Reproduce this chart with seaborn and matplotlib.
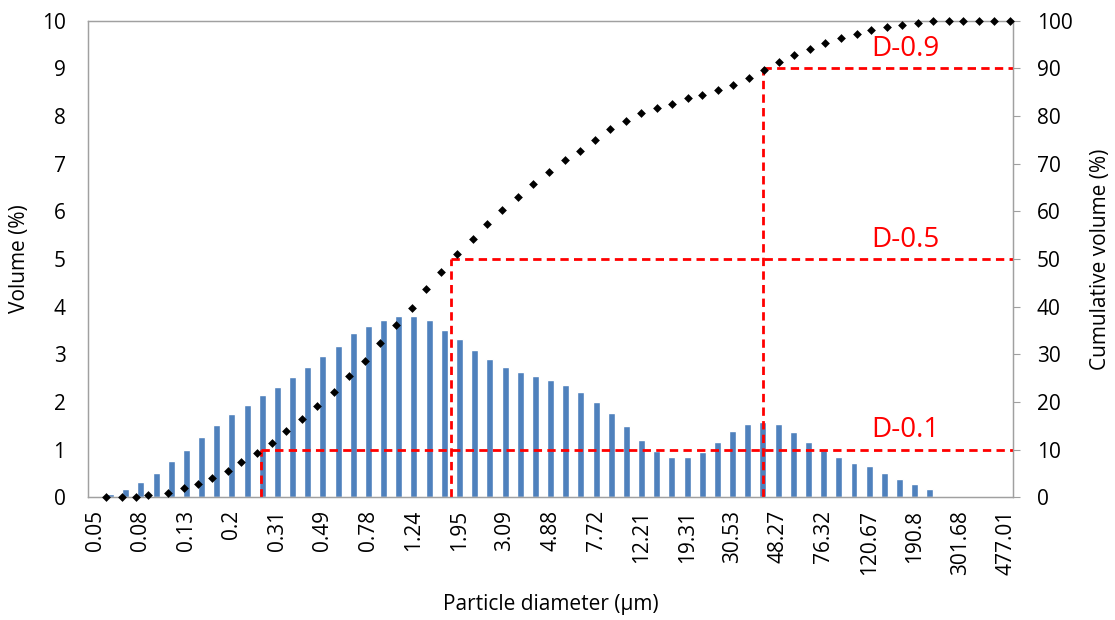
import numpy as np
import matplotlib
matplotlib.use('Agg')
import matplotlib.pyplot as plt
import seaborn as sns

# tick labels (every 3rd size class is labelled)
size_labels = ['0.05', '0.08', '0.13', '0.2', '0.31', '0.49', '0.78', '1.24', '1.95',
               '3.09', '4.88', '7.72', '12.21', '19.31', '30.53', '48.27', '76.32',
               '120.67', '190.8', '301.68', '477.01']

# volume (%) per size class, 61 classes
volume = [0, 0.06, 0.17, 0.32, 0.51, 0.76, 1.0, 1.26, 1.51, 1.74,
          1.93, 2.15, 2.32, 2.52, 2.73, 2.96, 3.18, 3.44, 3.6, 3.71,
          3.8, 3.8, 3.71, 3.52, 3.32, 3.1, 2.9, 2.74, 2.63, 2.54,
          2.47, 2.35, 2.21, 2.01, 1.76, 1.49, 1.2, 0.98, 0.85, 0.84,
          0.95, 1.17, 1.4, 1.54, 1.59, 1.54, 1.37, 1.15, 0.99, 0.84,
          0.73, 0.65, 0.5, 0.39, 0.28, 0.17, 0, 0, 0, 0, 0]
size_class = list(range(len(volume)))

# cumulative volume (%) and where the points sit along the class axis
cum_pos = [0.73, 1.78, 2.66, 3.45, 4.77, 5.83, 6.79, 7.67, 8.73, 9.60,
           10.66, 11.63, 12.59, 13.65, 14.61, 15.76, 16.72, 17.78, 18.75, 19.80,
           20.86, 21.82, 22.77, 23.82, 24.88, 25.84, 26.81, 27.87, 28.83, 29.89,
           30.94, 31.92, 32.94, 33.93, 34.98, 35.95, 37.01, 37.98, 39.04, 39.99,
           41.05, 42.00, 43.05, 44.04, 45.06, 46.04, 47.11, 48.07, 49.14, 50.20,
           51.15, 52.18, 53.15, 54.21, 55.19, 56.24, 57.20, 58.25, 59.21, 60.27]
cum_volume = [0, 0, 0.1, 0.5, 1.0, 1.9, 2.7, 4.1, 5.5, 7.5,
              9.4, 11.4, 13.9, 16.4, 19.2, 22.0, 25.4, 28.7, 32.3, 36.2,
              39.8, 43.7, 47.3, 51.0, 54.3, 57.4, 60.2, 63.0, 65.7, 68.3,
              70.8, 72.7, 75.0, 77.2, 78.9, 80.6, 81.7, 82.6, 83.7, 84.5,
              85.4, 86.5, 87.9, 89.6, 91.3, 92.7, 94.1, 95.3, 96.3, 97.2,
              98.0, 98.7, 99.2, 99.5, 100, 100, 100, 100, 100, 100]

# D-values: cumulative level, position on the class axis, label
d_levels = [10, 50, 90]
d_pos = [10.92, 23.47, 44.03]
d_names = ['D-0.1', 'D-0.5', 'D-0.9']

sns.set_style('white')
plt.rcParams['font.family'] = ['Open Sans', 'DejaVu Sans']
plt.rcParams['text.color'] = 'black'
plt.rcParams['axes.labelcolor'] = 'black'
plt.rcParams['xtick.color'] = 'black'
plt.rcParams['ytick.color'] = 'black'

gray = '#a0a0a0'
fig, ax = plt.subplots(figsize=(11.15, 6.2), dpi=100)
fig.subplots_adjust(left=0.0787, right=0.9088, bottom=0.1979, top=0.9666)

sns.barplot(x=size_class, y=volume, color='#4f81bd', saturation=1,
            width=0.46, ax=ax)
ax.set_xlim(-0.5, len(volume) - 0.5)
ax.set_ylim(0, 10)
ax.set_yticks(range(0, 11))
ax.set_xticks(range(0, len(volume), 3))
ax.set_xticklabels(size_labels, rotation=90)
ax.tick_params(axis='x', length=0, pad=9, labelsize=15)
ax.tick_params(axis='y', length=0, pad=16, labelsize=15)
ax.set_xlabel('Particle diameter (µm)', fontsize=15)
ax.set_ylabel('Volume (%)', fontsize=15)
ax.xaxis.set_label_coords(0.5, -0.203)
ax.yaxis.set_label_coords(-0.062, 0.5)

ax2 = ax.twinx()
ax2.set_ylim(0, 100)
ax2.set_yticks(range(0, 101, 10))

# D-value guide lines
xmax = len(volume) - 0.5
for lvl, pos, name in zip(d_levels, d_pos, d_names):
    ax2.plot([pos, pos], [0, lvl], color='#ff0000', lw=2.0, dashes=(3.0, 1.9))
    ax2.plot([pos, xmax], [lvl, lvl], color='#ff0000', lw=2.0, dashes=(3.0, 1.9))
    ax2.text(53.4, lvl + 2.6, name, color='#ff0000', fontsize=20,
             ha='center', va='baseline')

sns.scatterplot(x=cum_pos, y=cum_volume, marker='D', color='black', s=20,
                linewidth=0, ax=ax2, zorder=5, clip_on=False)
ax2.set_xlim(-0.5, xmax)
ax2.tick_params(axis='y', length=5, width=0.8, color=gray, labelcolor='black',
                pad=12, labelsize=15)
ax2.set_ylabel('Cumulative volume (%)', fontsize=15)
ax2.yaxis.set_label_coords(1.083, 0.5)

for a in (ax, ax2):
    for s in a.spines.values():
        s.set_visible(True)
        s.set_color(gray)
        s.set_linewidth(0.9)

fig.savefig('out.png', dpi=100)
